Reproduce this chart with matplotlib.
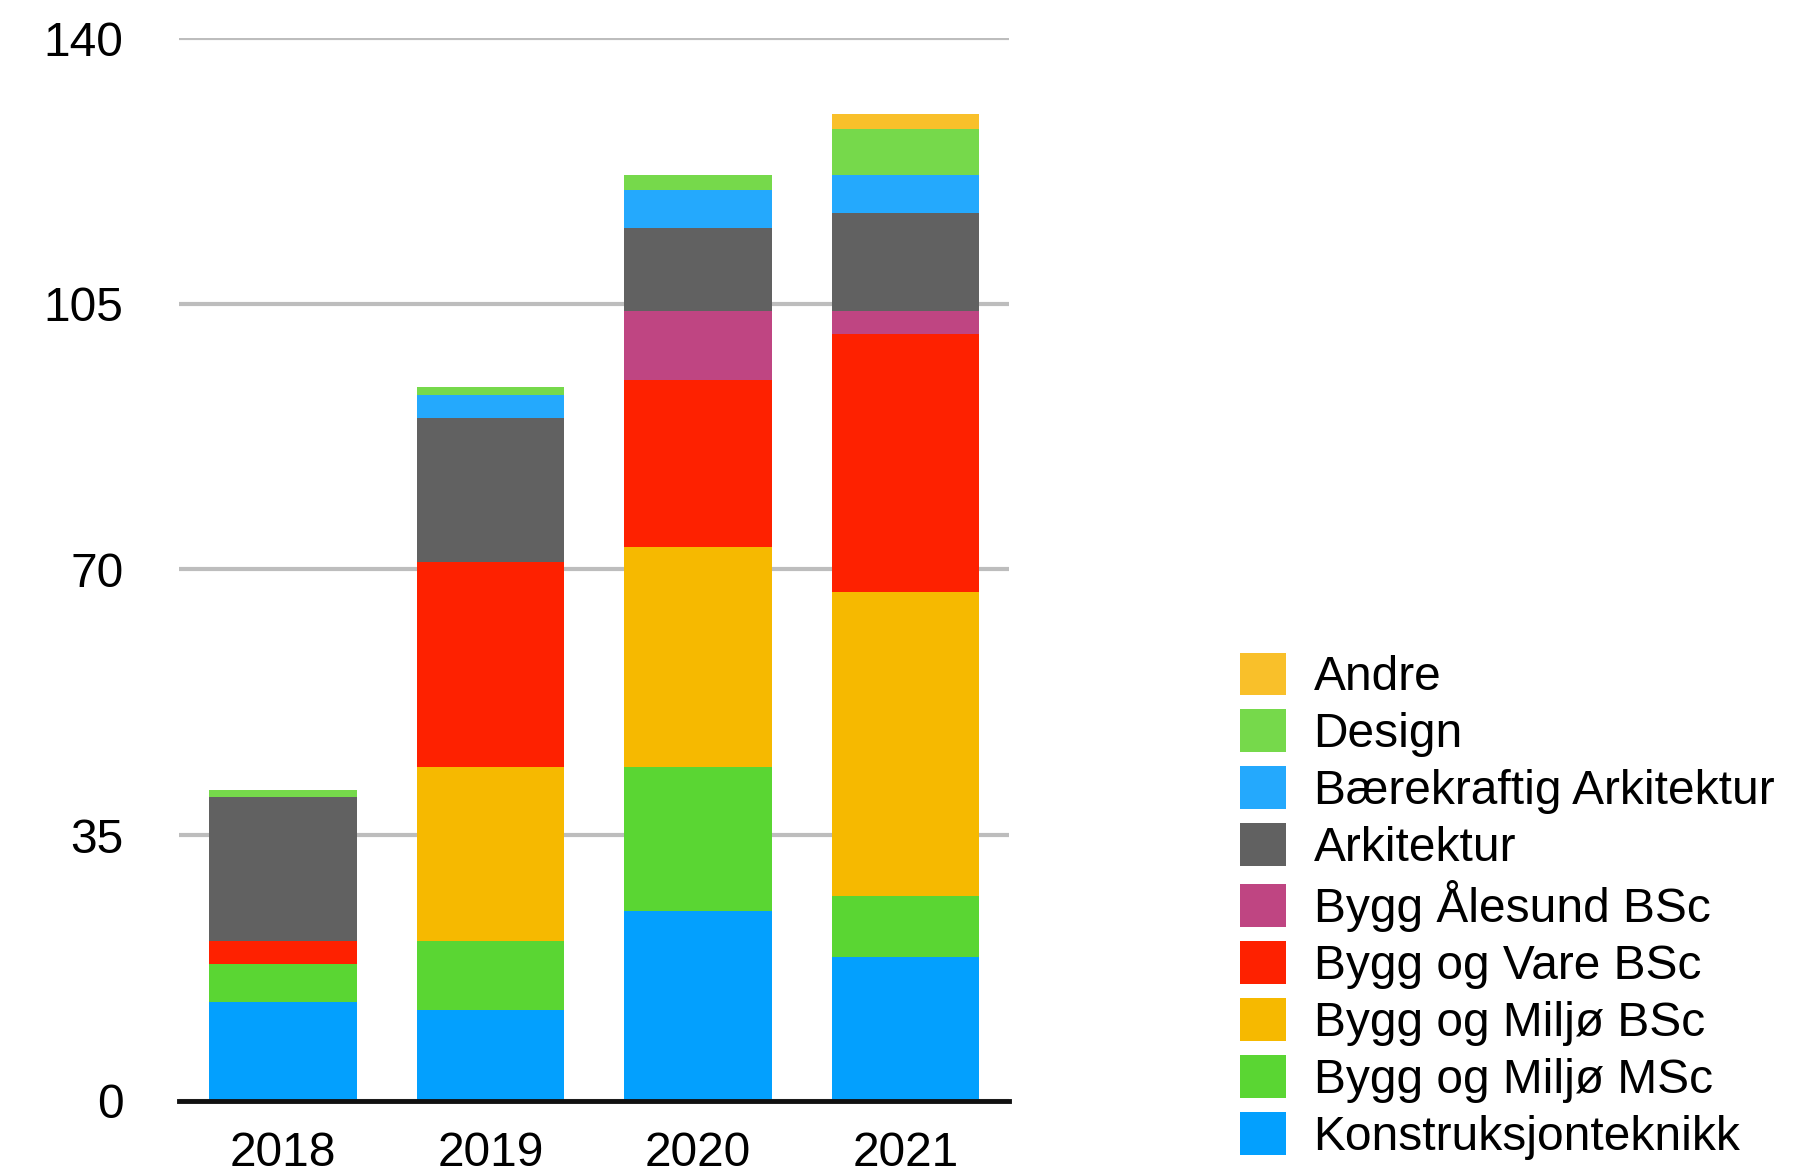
import numpy as np
import matplotlib
matplotlib.use("Agg")
import matplotlib.pyplot as plt

plt.rcParams["font.family"] = ["Liberation Sans", "DejaVu Sans"]

years = ["2018", "2019", "2020", "2021"]

# series, bottom to top of the stack
series = [
    "Konstruksjonteknikk",
    "Bygg og Miljø MSc",
    "Bygg og Miljø BSc",
    "Bygg og Vare BSc",
    "Bygg Ålesund BSc",
    "Arkitektur",
    "Bærekraftig Arkitektur",
    "Design",
    "Andre",
]
konstruksjon = [13, 12, 25, 19]
miljo_msc = [5, 9, 19, 8]
miljo_bsc = [0, 23, 29, 40]
vare_bsc = [3, 27, 22, 34]
alesund_bsc = [0, 0, 9, 3]
arkitektur = [19, 19, 11, 13]
baerekraftig = [0, 3, 5, 5]
design = [1, 1, 2, 6]
andre = [0, 0, 0, 2]
values = [konstruksjon, miljo_msc, miljo_bsc, vare_bsc, alesund_bsc,
          arkitektur, baerekraftig, design, andre]
colors = ["#03A0FE", "#5AD633", "#F6B900", "#FE2100", "#BF4582",
          "#616161", "#24A9FD", "#76D94B", "#F9C02A"]

y_ticks = [0, 35, 70, 105, 140]

fig = plt.figure(figsize=(17.93, 11.71), dpi=100)
ax = fig.add_axes([0.100, 0.060, 0.463, 0.9075])

x = np.arange(len(years))
bottom = np.zeros(len(years))
handles = []
for name, vals, col in zip(series, values, colors):
    h = ax.bar(x, vals, width=0.71, bottom=bottom, color=col, label=name, zorder=3)
    handles.append(h)
    bottom += np.array(vals)

ax.set_xlim(-0.5, len(years) - 0.5)
ax.set_ylim(0, 140)
ax.set_yticks(y_ticks)
ax.set_xticks(x, years)
ax.yaxis.grid(True, color="#BDBDBD", linewidth=3, zorder=0)
ax.set_axisbelow(True)
for s in ["top", "right", "left"]:
    ax.spines[s].set_visible(False)
ax.spines["bottom"].set_linewidth(3.5)
ax.spines["bottom"].set_color("#111111")
ax.spines["bottom"].set_zorder(5)
ax.tick_params(axis="y", length=0, pad=40, labelsize=34.5)
ax.tick_params(axis="x", length=0, pad=22, labelsize=34.5)

leg = fig.legend(handles[::-1], series[::-1], loc="center left",
                 bbox_to_anchor=(0.681, 0.226), frameon=False,
                 fontsize=34.5, handlelength=0.95, handleheight=1.0,
                 handletextpad=0.58, labelspacing=0.19, borderaxespad=0)

fig.savefig("out.png", dpi=100)
